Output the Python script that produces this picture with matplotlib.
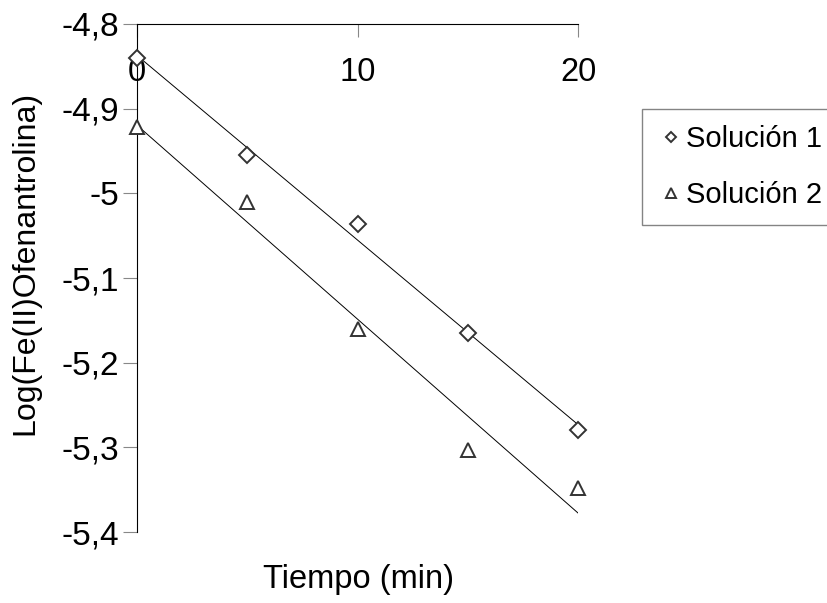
import numpy as np
import matplotlib
matplotlib.use("Agg")
from matplotlib import pyplot as plt

plt.rcParams['font.family'] = ['Liberation Sans', 'DejaVu Sans']

tiempo = [0, 5, 10, 15, 20]
sol1 = [-4.840, -4.955, -5.036, -5.165, -5.280]
sol2 = [-4.922, -5.010, -5.160, -5.303, -5.348]

xticks = [0, 10, 20]
yticks = [-4.8, -4.9, -5.0, -5.1, -5.2, -5.3, -5.4]
ylabels = ['-4,8', '-4,9', '-5', '-5,1', '-5,2', '-5,3', '-5,4']

fig = plt.figure(figsize=(8.27, 6.03), dpi=100)
ax = fig.add_axes([0.1657, 0.1177, 0.5333, 0.8425])

# puntos
ax.plot(tiempo, sol1, ls='none', marker='D', ms=8, mfc='white', mec='#333333', mew=1.4, label='Solución 1', zorder=3, clip_on=False)
ax.plot(tiempo, sol2, ls='none', marker='^', ms=10, mfc='white', mec='#333333', mew=1.4, label='Solución 2', zorder=3, clip_on=False)

# lineas de tendencia
for ys in (sol1, sol2):
    m, b = np.polyfit(tiempo, ys, 1)
    xx = np.array([tiempo[0], tiempo[-1]])
    ax.plot(xx, m * xx + b, color='black', lw=0.7, zorder=2)

ax.set_xlim(0, 20)
ax.set_ylim(-5.4, -4.8)
ax.set_yticks(yticks)
ax.set_yticklabels(ylabels)
ax.set_xticks(xticks)

ax.spines['right'].set_visible(False)
ax.spines['bottom'].set_visible(False)
ax.xaxis.set_ticks_position('top')
ax.tick_params(axis='x', direction='in', length=9, labeltop=True, labelbottom=False, pad=-46, labelsize=23.5, color='#888888')
ax.tick_params(axis='y', direction='out', length=10, labelsize=24, pad=3, color='#888888')

ax.set_ylabel('Log(Fe(II)Ofenantrolina)', fontsize=23, va='center')
ax.yaxis.set_label_coords(0.031, 0.564, transform=fig.transFigure)
fig.text(0.433, 0.025, 'Tiempo (min)', fontsize=23.5, ha='center')

leg = fig.legend(loc='upper left', bbox_to_anchor=(0.776, 0.819), fontsize=21, frameon=True,
                 fancybox=False, edgecolor='#666666', handlelength=0.9, handletextpad=0.05,
                 labelspacing=0.95, markerscale=0.7, borderpad=0.55, borderaxespad=0)
leg.get_frame().set_linewidth(1.0)

fig.savefig('out.png', dpi=100)
